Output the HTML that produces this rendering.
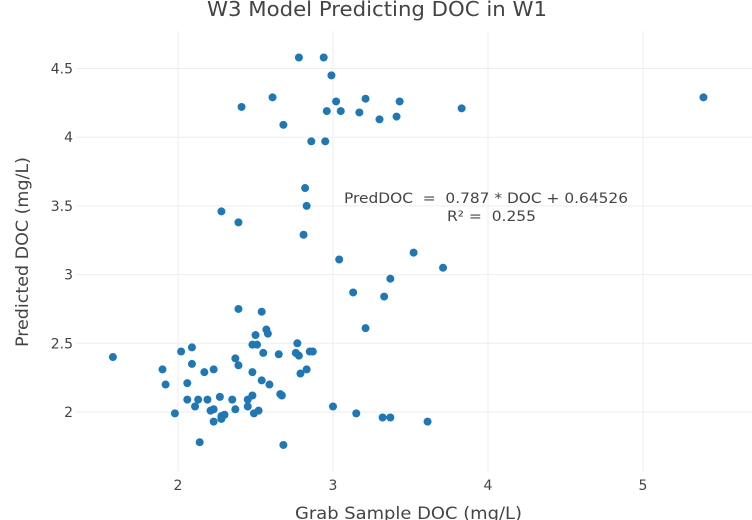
<!DOCTYPE html>
<html><head><meta charset="utf-8"><style>
html,body{margin:0;padding:0;background:#fff;width:752px;height:520px;overflow:hidden}
svg text{font-family:"DejaVu Sans","Liberation Sans",sans-serif;fill:#444;white-space:pre}
</style></head><body>
<svg id="chart" width="752" height="520" xmlns="http://www.w3.org/2000/svg">
<text x="207" y="16" font-size="20" textLength="340" lengthAdjust="spacingAndGlyphs">W3 Model Predicting DOC in W1</text>
<g id="grid"></g>
<g id="ticks"></g>
<g id="pts"></g>
<text x="344" y="203" font-size="14" xml:space="preserve" textLength="284" lengthAdjust="spacingAndGlyphs">PredDOC  =  0.787 * DOC + 0.64526</text>
<text x="447" y="221" font-size="14" xml:space="preserve" textLength="89" lengthAdjust="spacingAndGlyphs">R² =  0.255</text>
<text x="295" y="519" font-size="17" textLength="227" lengthAdjust="spacingAndGlyphs">Grab Sample DOC (mg/L)</text>
<text transform="translate(28,347) rotate(-90)" font-size="17" textLength="190" lengthAdjust="spacingAndGlyphs">Predicted DOC (mg/L)</text>
</svg>
<script>
const xTicks=[2,3,4,5];
const yTicks=[2,2.5,3,3.5,4,4.5];
const yTickLabels=["2","2.5","3","3.5","4","4.5"];
const grabDOC=[2.78,2.94,2.99,2.41,2.61,3.02,2.96,3.05,3.21,3.17,3.30,3.41,3.43,3.83,5.39,2.68,2.86,2.95,
2.82,2.83,2.28,2.39,2.81,3.04,3.52,3.71,3.13,3.37,3.33,3.21,2.39,2.54,
1.58,1.90,1.92,1.98,2.02,2.09,2.09,2.06,2.06,2.11,2.13,2.19,2.14,2.17,2.23,2.27,2.21,2.23,2.28,2.30,2.28,2.23,2.35,2.37,2.37,2.39,2.48,2.50,2.57,2.58,2.48,2.51,2.55,2.65,2.54,2.59,2.45,2.45,2.48,2.49,2.52,2.66,2.67,2.68,2.77,2.76,2.78,2.85,2.87,2.79,2.83,3.00,3.15,3.32,3.37,3.61];
const predDOC=[4.58,4.58,4.45,4.22,4.29,4.26,4.19,4.19,4.28,4.18,4.13,4.15,4.26,4.21,4.29,4.09,3.97,3.97,
3.63,3.50,3.46,3.38,3.29,3.11,3.16,3.05,2.87,2.97,2.84,2.61,2.75,2.73,
2.40,2.31,2.20,1.99,2.44,2.47,2.35,2.21,2.09,2.04,2.09,2.09,1.78,2.29,2.31,2.11,2.01,2.02,1.97,1.98,1.95,1.93,2.09,2.02,2.39,2.34,2.29,2.56,2.60,2.57,2.49,2.49,2.43,2.42,2.23,2.20,2.09,2.04,2.12,1.99,2.01,2.13,2.12,1.76,2.50,2.43,2.41,2.44,2.44,2.28,2.31,2.04,1.99,1.96,1.96,1.93];
const NS="http://www.w3.org/2000/svg";
const L=76,R=752,T=31,B=471;
const X=v=>178+(v-2)*155;
const Y=v=>412-(v-2)*137.4;
function mk(tag,attrs,parent,txt){const e=document.createElementNS(NS,tag);for(const k in attrs)e.setAttribute(k,attrs[k]);if(txt!=null)e.textContent=txt;parent.appendChild(e);return e;}
const grid=document.getElementById('grid'),ticks=document.getElementById('ticks'),pts=document.getElementById('pts');
xTicks.forEach(t=>{
  const l=mk('line',{x1:X(t),x2:X(t),y1:T,y2:B,stroke:'#eee','stroke-width':1},grid);
  
  
  const tx=mk('text',{x:X(t),y:490,'font-size':14,'text-anchor':'middle'},ticks,String(t));
  
  
});
yTicks.forEach((t,i)=>{
  const l=mk('line',{x1:L,x2:R,y1:Y(t),y2:Y(t),stroke:'#eee','stroke-width':1},grid);
  
  
  const tx=mk('text',{x:73,y:Y(t)+5,'font-size':14,'text-anchor':'end'},ticks,yTickLabels[i]);
  
  
});
grabDOC.forEach((v,i)=>{
  const c=mk('circle',{cx:X(v),cy:Y(predDOC[i]),r:4,fill:'#1f77b4'},pts);
  
  
});
</script>
</body></html>
